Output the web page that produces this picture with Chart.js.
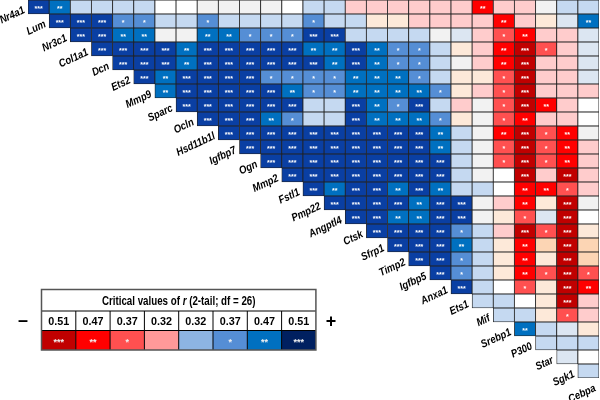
<!DOCTYPE html>
<html lang="en">
<head>
<meta charset="UTF-8" />
<title>Correlation matrix</title>
<script src="https://cdn.jsdelivr.net/npm/chart.js"></script>
<style>
  html, body { margin: 0; padding: 0; background: #fff; }
  #wrap { width: 600px; height: 400px; }
</style>
</head>
<body>
<div id="wrap"><canvas id="matrix" width="600" height="400"></canvas></div>
<script>
// genes in matrix order; row i is compared with genes i+1 .. 27
const genes = ['Nr4a1', 'Lum', 'Nr3c1', 'Col1a1', 'Dcn', 'Ets2', 'Mmp9', 'Sparc', 'Ocln',
  'Hsd11b1l', 'Igfbp7', 'Ogn', 'Mmp2', 'Fstl1', 'Pmp22', 'Angptl4', 'Ctsk', 'Sfrp1', 'Timp2',
  'Igfbp5', 'Anxa1', 'Ets1', 'Mif', 'Srebp1', 'P300', 'Star', 'Sgk1', 'Cebpa'];

// r values (estimated from the colour bins), each row starts at the next gene
const rowNr4a1 = [0.58, 0.49, 0.26, 0.26, 0.26, 0.26, -0.04, -0.04, 0.05, 0.05, 0.05, 0.05, -0.04, 0.26, 0.26, -0.28, -0.28, -0.28, -0.28, -0.28, -0.28, -0.49, -0.28, -0.28, 0.05, 0.26, 0.26];
const rowLum = [0.58, 0.58, 0.58, 0.42, 0.42, 0.26, 0.26, 0.42, 0.26, 0.26, 0.26, 0.26, 0.42, 0.26, 0.26, -0.14, -0.14, -0.28, -0.28, -0.28, -0.28, -0.49, -0.28, -0.14, 0.15, 0.49];
const rowNr3c1 = [0.58, 0.58, 0.49, 0.49, 0.05, 0.05, 0.49, 0.49, 0.42, 0.42, 0.42, 0.58, 0.58, 0.26, 0.26, 0.26, 0.26, 0.05, 0.15, -0.28, -0.42, -0.49, -0.28, -0.28, 0.15];
const rowCol1a1 = [0.58, 0.58, 0.58, 0.58, 0.49, 0.58, 0.58, 0.58, 0.58, 0.58, 0.49, 0.49, 0.58, 0.49, 0.42, 0.42, 0.26, -0.14, -0.28, -0.49, -0.58, -0.42, -0.28, 0.15];
const rowDcn = [0.58, 0.58, 0.58, 0.49, 0.58, 0.58, 0.58, 0.58, 0.58, 0.58, 0.49, 0.58, 0.49, 0.42, 0.42, 0.26, 0.05, -0.28, -0.49, -0.58, -0.28, -0.28, 0.15];
const rowEts2 = [0.58, 0.49, 0.58, 0.58, 0.58, 0.58, 0.42, 0.42, 0.42, 0.42, 0.49, 0.49, 0.49, 0.42, 0.26, -0.14, -0.14, -0.42, -0.58, -0.28, -0.28, 0.15];
const rowMmp9 = [0.49, 0.58, 0.58, 0.58, 0.58, 0.58, 0.49, 0.42, 0.42, 0.49, 0.49, 0.49, 0.49, 0.42, -0.14, -0.28, -0.42, -0.58, -0.28, -0.28, -0.28];
const rowSparc = [0.58, 0.58, 0.58, 0.58, 0.58, 0.58, 0.26, 0.26, 0.58, 0.49, 0.42, 0.58, 0.26, -0.28, 0.05, -0.42, -0.58, -0.49, -0.28, -0.04];
const rowOcln = [0.58, 0.58, 0.58, 0.49, 0.42, 0.26, 0.26, 0.58, 0.49, 0.49, 0.49, 0.42, -0.14, 0.05, -0.42, -0.49, -0.28, -0.28, -0.04];
const rowHsd11b1l = [0.58, 0.58, 0.58, 0.58, 0.58, 0.58, 0.58, 0.58, 0.58, 0.58, 0.49, 0.26, 0.05, -0.49, -0.58, -0.42, -0.49, 0.05];
const rowIgfbp7 = [0.58, 0.58, 0.58, 0.58, 0.58, 0.58, 0.58, 0.58, 0.58, 0.49, 0.26, 0.05, -0.42, -0.58, -0.42, -0.49, -0.28];
const rowOgn = [0.58, 0.58, 0.58, 0.58, 0.58, 0.58, 0.58, 0.58, 0.58, 0.26, 0.05, -0.42, -0.58, -0.42, -0.49, -0.28];
const rowMmp2 = [0.58, 0.58, 0.58, 0.58, 0.58, 0.58, 0.58, 0.58, 0.26, 0.05, -0.04, -0.58, -0.28, -0.58, -0.28];
const rowFstl1 = [0.58, 0.49, 0.58, 0.58, 0.49, 0.58, 0.49, 0.26, 0.26, -0.04, -0.49, -0.49, -0.42, -0.28];
const rowPmp22 = [0.58, 0.58, 0.58, 0.58, 0.49, 0.58, 0.58, 0.05, -0.28, -0.49, -0.14, -0.58, 0.05];
const rowAngptl4 = [0.58, 0.58, 0.49, 0.49, 0.58, 0.58, 0.05, -0.14, -0.42, 0.15, -0.58, -0.04];
const rowCtsk = [0.58, 0.58, 0.58, 0.58, 0.42, 0.26, -0.28, -0.58, -0.42, -0.58, -0.14];
const rowSfrp1 = [0.58, 0.58, 0.58, 0.49, 0.26, -0.14, -0.49, -0.21, -0.58, -0.21];
const rowTimp2 = [0.58, 0.58, 0.42, 0.26, -0.14, -0.49, -0.14, -0.58, -0.21];
const rowIgfbp5 = [0.58, 0.42, 0.26, -0.14, -0.49, -0.42, -0.58, -0.42];
const rowAnxa1 = [0.58, 0.26, -0.04, -0.42, -0.14, -0.58, -0.49];
const rowEts1 = [0.26, 0.26, -0.04, -0.14, -0.58, -0.28];
const rowMif = [0.26, 0.26, -0.14, -0.42, -0.28];
const rowSrebp1 = [0.49, 0.26, 0.15, -0.14];
const rowP300 = [0.26, 0.26, 0.26];
const rowStar = [0.15, -0.04];
const rowSgk1 = [0.26];

// critical r for * / ** / *** (2-tail, df = 26)
const critR = [0.37, 0.47, 0.51];
const keyValues = [0.51, 0.47, 0.37, 0.32, 0.32, 0.37, 0.47, 0.51];
const keyStars = ['***', '**', '*', '', '', '*', '**', '***'];
const keyColors = ['#c00000', '#ff0000', '#ff5050', '#ff9999', '#8db4e2', '#558ed5', '#0070c0', '#002060'];

const corrRows = [rowNr4a1, rowLum, rowNr3c1, rowCol1a1, rowDcn, rowEts2, rowMmp9, rowSparc, rowOcln,
  rowHsd11b1l, rowIgfbp7, rowOgn, rowMmp2, rowFstl1, rowPmp22, rowAngptl4, rowCtsk, rowSfrp1,
  rowTimp2, rowIgfbp5, rowAnxa1, rowEts1, rowMif, rowSrebp1, rowP300, rowStar, rowSgk1];

// colour bins, like the spreadsheet formatting
function cellColor(r) {
  if (r >= 0.51) return '#0a3fa3';
  if (r >= 0.47) return '#0070c0';
  if (r >= 0.37) return '#558ed5';
  if (r >= 0.32) return '#8db4e2';
  if (r >= 0.2) return '#c5d9f1';
  if (r >= 0.1) return '#dce6f2';
  if (r >= 0) return '#f2f2f2';
  if (r > -0.1) return '#ffffff';
  if (r > -0.18) return '#fde9d9';
  if (r > -0.25) return '#fcd5b4';
  if (r > -0.32) return '#ffcccc';
  if (r > -0.37) return '#ff9999';
  if (r > -0.47) return '#ff5050';
  if (r > -0.51) return '#ff0000';
  return '#c00000';
}

function starsFor(r) {
  const a = Math.abs(r);
  if (a >= critR[2]) return '***';
  if (a >= critR[1]) return '**';
  if (a >= critR[0]) return '*';
  return '';
}

// one floating bar per cell: column = gene j, spans row i .. i+1
const cells = [];
corrRows.forEach((row, i) => {
  row.forEach((v, k) => {
    cells.push({ x: genes[i + 1 + k], y: [i, i + 1], v: v });
  });
});

const labelFont = 'bold italic 11px "Liberation Sans", Arial, sans-serif';

// stars inside the significant cells
const starsPlugin = {
  id: 'stars',
  afterDatasetsDraw(chart) {
    const c = chart.ctx;
    const meta = chart.getDatasetMeta(0);
    c.save();
    c.fillStyle = '#ffffff';
    c.font = 'bold 7px "Liberation Sans", Arial, sans-serif';
    c.textAlign = 'center';
    c.textBaseline = 'alphabetic';
    meta.data.forEach((bar, k) => {
      const s = starsFor(cells[k].v);
      if (s) c.fillText(s, bar.x, (bar.y + bar.base) / 2 + 4);
    });
    c.restore();
  }
};

// gene names along the diagonal
const geneLabels = {
  id: 'geneLabels',
  afterDraw(chart) {
    const c = chart.ctx;
    const xs = chart.scales.x, ys = chart.scales.y;
    const w = xs.getPixelForValue(1) - xs.getPixelForValue(0);
    c.save();
    c.fillStyle = '#000';
    c.font = labelFont;
    c.textAlign = 'right';
    c.textBaseline = 'alphabetic';
    genes.forEach((g, i) => {
      const x = xs.getPixelForValue(i) - w / 2 - 2.5;
      const y = ys.getPixelForValue(i + 1) - 1.5;
      c.save();
      c.translate(x, y);
      c.rotate(-25 * Math.PI / 180);
      c.scale(0.86, 1);
      c.fillText(g, 0, 0);
      c.restore();
    });
    c.restore();
  }
};

// key table: critical values of r
const keyTable = {
  id: 'keyTable',
  afterDraw(chart) {
    const c = chart.ctx;
    const left = 41.5, top = 289.5, colW = 34.3;
    const titleH = 21.5, valH = 19.5, colH = 19.5;
    const width = colW * 8;
    c.save();
    c.fillStyle = '#fff';
    c.fillRect(left, top, width, titleH + valH + colH);

    // colour row
    keyColors.forEach((col, k) => {
      c.fillStyle = col;
      c.fillRect(left + k * colW, top + titleH + valH, colW, colH);
    });

    // inner lines
    c.strokeStyle = '#000';
    c.lineWidth = 1;
    c.beginPath();
    c.moveTo(left, top + titleH);
    c.lineTo(left + width, top + titleH);
    c.moveTo(left, top + titleH + valH);
    c.lineTo(left + width, top + titleH + valH);
    for (let k = 1; k < 8; k++) {
      c.moveTo(left + k * colW, top + titleH);
      c.lineTo(left + k * colW, top + titleH + valH + colH);
    }
    c.stroke();

    c.strokeStyle = '#555';
    c.lineWidth = 1.5;
    c.strokeRect(left, top, width, titleH + valH + colH);

    // title
    c.fillStyle = '#000';
    c.textBaseline = 'middle';
    const ty = top + titleH / 2 + 1;
    const parts = [
      ['Critical values of ', 'bold 12.5px "Liberation Sans", Arial, sans-serif'],
      ['r', 'bold italic 12.5px "Liberation Sans", Arial, sans-serif'],
      [' (2-tail; df = 26)', 'bold 12.5px "Liberation Sans", Arial, sans-serif']
    ];
    const squeeze = 0.78;
    let total = 0;
    parts.forEach(p => { c.font = p[1]; total += c.measureText(p[0]).width * squeeze; });
    let tx = left + width / 2 - total / 2;
    c.textAlign = 'left';
    parts.forEach(p => {
      c.font = p[1];
      const pw = c.measureText(p[0]).width;
      c.save();
      c.translate(tx, ty);
      c.scale(squeeze, 1);
      c.fillText(p[0], 0, 0);
      c.restore();
      tx += pw * squeeze;
    });

    // values and stars
    c.textAlign = 'center';
    keyValues.forEach((v, k) => {
      const cx = left + (k + 0.5) * colW;
      c.fillStyle = '#000';
      c.font = 'bold 11.5px "Liberation Sans", Arial, sans-serif';
      c.fillText(v.toFixed(2), cx, top + titleH + valH / 2 + 1, 21);
      if (keyStars[k]) {
        c.fillStyle = '#f2f2f2';
        c.font = 'bold 9px "Liberation Sans", Arial, sans-serif';
        c.textBaseline = 'alphabetic';
        c.fillText(keyStars[k], cx, top + titleH + valH + colH / 2 + 5);
        c.textBaseline = 'middle';
      }
    });

    // minus / plus signs
    c.fillStyle = '#000';
    c.font = 'bold 18px "Liberation Sans", Arial, sans-serif';
    c.fillText('\u2013', 23, 321);
    c.fillText('+', 331, 322);
    c.restore();
  }
};

const ctx = document.getElementById('matrix').getContext('2d');
new Chart(ctx, {
  type: 'bar',
  data: {
    labels: genes.slice(1),
    datasets: [{
      data: cells,
      backgroundColor: c => (c.raw ? cellColor(c.raw.v) : '#fff'),
      borderColor: '#222222',
      borderWidth: 0.8,
      borderSkipped: false,
      categoryPercentage: 1,
      barPercentage: 1
    }]
  },
  options: {
    responsive: false,
    animation: false,
    layout: { padding: { left: 28, right: 1, top: 0, bottom: 22 } },
    plugins: {
      legend: { display: false },
      tooltip: { enabled: false }
    },
    scales: {
      x: { display: false, offset: true },
      y: { display: false, min: 0, max: 27, reverse: true }
    }
  },
  plugins: [starsPlugin, geneLabels, keyTable]
});
</script>
</body>
</html>
